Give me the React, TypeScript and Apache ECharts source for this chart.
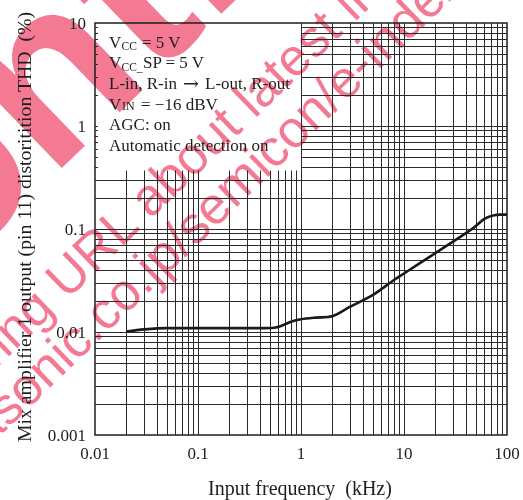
import React, { useEffect, useRef } from 'react';
import * as echarts from 'echarts';

// Curve: THD (%) vs input frequency (kHz)
const freqKHz = [0.02, 0.03, 0.05, 0.1, 0.2, 0.4, 0.55, 0.65, 0.8, 1, 1.4, 2, 3, 5, 8, 10, 20, 47, 58, 65, 75, 85, 100];
const thdPct = [0.0101, 0.0106, 0.0109, 0.0109, 0.0109, 0.0109, 0.011, 0.0115, 0.0126, 0.0133, 0.0138, 0.0142, 0.0176, 0.0229, 0.032, 0.037, 0.058, 0.102, 0.122, 0.13, 0.136, 0.138, 0.138];

const xTickLabels = ['0.01', '0.1', '1', '10', '100'];
const yTickLabels = ['0.001', '0.01', '0.1', '1', '10'];
const xDecades = [0.01, 0.1, 1, 10];
const yDecades = [0.001, 0.01, 0.1, 1];
const multipliers = [1, 2, 3, 4, 5, 6, 7, 8, 9];

const conditions = [
  'Vcc = 5 V',
  'Vcc_SP = 5 V',
  'L-in, R-in \u2192 L-out, R-out',
  'VIN = \u221216 dBV',
  'AGC: on',
  'Automatic detection on',
];

const X_MIN = 0.01, X_MAX = 100, Y_MIN = 0.001, Y_MAX = 10;
const BOX_X = 1;      // text box right edge (kHz)
const BOX_Y = 0.37;   // text box bottom edge (%)

const SERIF = '"Liberation Serif", "Times New Roman", serif';
const SANS = '"Liberation Sans", Arial, sans-serif';
const INK = '#1e1e1e';
const PINK = '#f47a93';

function r(v: number) { return +v.toPrecision(3); }

export default function App() {
  const ref = useRef<HTMLDivElement>(null);
  useEffect(() => {
    if (!ref.current) return;
    const chart = echarts.init(ref.current, undefined, { renderer: 'svg' });

    const gridX: number[] = [];
    xDecades.forEach(d => multipliers.forEach(m => { const v = r(d * m); if (v > X_MIN && v < X_MAX) gridX.push(v); }));
    const gridY: number[] = [];
    yDecades.forEach(d => multipliers.forEach(m => { const v = r(d * m); if (v > Y_MIN && v < Y_MAX) gridY.push(v); }));

    const lines: any[] = [];
    gridX.forEach(x => {
      lines.push([{ coord: [x, Y_MIN] }, { coord: [x, x < BOX_X ? BOX_Y : Y_MAX] }]);
    });
    gridY.forEach(y => {
      lines.push([{ coord: [y > 0.35 ? BOX_X : X_MIN, y] }, { coord: [X_MAX, y] }]);
    });
    // small inner ticks on the left edge inside the text box
    const tickEnd = X_MIN * Math.pow(10, 3 / 103);
    gridY.filter(y => y > 0.35).forEach(y => {
      lines.push([{ coord: [X_MIN, y] }, { coord: [tickEnd, y] }]);
    });

    const L0 = 42, LH = 20.7, TX = 109;
    const txt = (x: number, y: number, text: string, size = 17, family = SERIF) => ({
      type: 'text', x, y, z: 10,
      style: { text, fontFamily: family, fontSize: size, fill: INK, align: 'left', verticalAlign: 'middle' },
    });
    const [lin, lout] = conditions[2].split(' \u2192 ');
    const legend: any[] = [
      txt(TX, L0, 'V'), txt(121.5, L0 + 4, 'CC', 11.5), txt(142, L0, '= 5 V'),
      txt(TX, L0 + LH, 'V'), txt(121.5, L0 + LH + 4, 'CC_', 11.5), txt(143, L0 + LH, 'SP = 5 V'),
      txt(TX, L0 + 2 * LH, lin), txt(183, L0 + 2 * LH, '\u2192', 19, '"DejaVu Serif", serif'), txt(205, L0 + 2 * LH, lout),
      txt(TX, L0 + 3 * LH, 'V'), txt(122, L0 + 3 * LH + 1.5, 'IN', 12), txt(141, L0 + 3 * LH, '= \u221216 dBV'),
      txt(TX, L0 + 4 * LH, conditions[4]),
      txt(TX, L0 + 5 * LH, conditions[5]),
    ];

    const ang = 44 * Math.PI / 180;
    const watermark: any[] = [
      { type: 'text', x: -181, y: 586, rotation: ang, z: -5,
        style: { text: 'http://panasonic.co.jp/semicon/e-index.html', fontFamily: SANS, fontSize: 52, fill: PINK, align: 'left', verticalAlign: 'middle' } },
      { type: 'text', x: -301, y: 631, rotation: ang, z: -5,
        style: { text: 'Please visit following URL about latest information.', fontFamily: SANS, fontSize: 52, fill: PINK, align: 'left', verticalAlign: 'middle' } },
      { type: 'text', x: -385, y: 650, rotation: ang, z: -5,
        style: { text: 'Discontinued', fontFamily: SANS, fontWeight: 'bold', fontSize: 235, fill: PINK, align: 'left', verticalAlign: 'bottom' } },
    ];

    const titles: any[] = [
      { type: 'text', x: 300, y: 488, z: 10,
        style: { text: 'Input frequency\u00a0 (kHz)', fontFamily: SERIF, fontSize: 20, fill: INK, align: 'center', verticalAlign: 'middle' } },
      { type: 'text', x: 24, y: 227, rotation: Math.PI / 2, z: 10,
        style: { text: 'Mix amplifier 1 output (pin 11) distoritition THD\u00a0 (%)', fontFamily: SERIF, fontSize: 19.8, fill: INK, align: 'center', verticalAlign: 'middle' } },
    ];

    chart.setOption({
      animation: false,
      grid: { left: 95, top: 23, width: 412, height: 412, show: true, borderColor: INK, borderWidth: 1.5, backgroundColor: 'rgba(0,0,0,0)' },
      xAxis: {
        type: 'log', logBase: 10, min: X_MIN, max: X_MAX,
        axisLine: { show: false }, axisTick: { show: false }, splitLine: { show: false },
        axisLabel: { fontFamily: SERIF, fontSize: 17, color: INK, margin: 10,
          formatter: (v: number) => xTickLabels.find(t => Math.abs(Math.log10(+t) - Math.log10(v)) < 1e-6) ?? '' },
      },
      yAxis: {
        type: 'log', logBase: 10, min: Y_MIN, max: Y_MAX,
        axisLine: { show: false }, axisTick: { show: false }, splitLine: { show: false },
        axisLabel: { fontFamily: SERIF, fontSize: 17, color: INK, margin: 9,
          formatter: (v: number) => yTickLabels.find(t => Math.abs(Math.log10(+t) - Math.log10(v)) < 1e-6) ?? '' },
      },
      graphic: [...watermark, ...legend, ...titles],
      series: [
        {
          type: 'line', z: 1, data: [[1, 0.01]], showSymbol: false, symbol: 'none', silent: true,
          lineStyle: { opacity: 0 },
          markLine: { silent: true, animation: false, symbol: ['none', 'none'], label: { show: false },
            lineStyle: { color: '#2a2a2a', width: 1, type: 'solid' }, emphasis: { disabled: true }, data: lines },
        },
        {
          type: 'line', z: 5, data: freqKHz.map((f, i) => [f, thdPct[i]]), showSymbol: false, symbol: 'none',
          smooth: 0.3, lineStyle: { color: '#1a1a1a', width: 2.6 },
        },
      ],
    });
    return () => chart.dispose();
  }, []);
  return <div ref={ref} style={{ position: 'fixed', left: 0, top: 0, width: 523, height: 500 }} />;
}
